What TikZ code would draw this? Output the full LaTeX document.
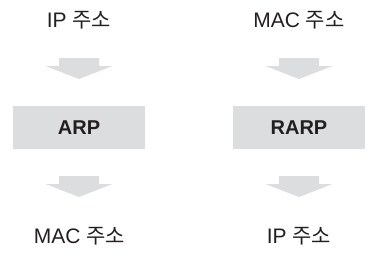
\documentclass[tikz,border=0pt]{standalone}
\usepackage{fontspec}
\setmainfont{Liberation Sans}
\newfontfamily\kr{Noto Sans CJK KR}
\definecolor{boxgray}{HTML}{DCDDDF}
\definecolor{txt}{HTML}{231F20}
\begin{document}
\begin{tikzpicture}[x=1pt,y=-1pt,
  lbl/.style={inner sep=0pt,text=txt,font=\fontsize{21}{21}\selectfont},
  procbox/.style={fill=boxgray,minimum width=132pt,minimum height=43pt,inner sep=0pt,text=txt,font=\fontsize{20}{20}\selectfont\bfseries},
  blockarrow/.style={fill=boxgray}]
\useasboundingbox (0,0) rectangle (375,260);
% left column
\node[lbl] (ipA) at (79,20) {IP {\kr 주소}};
\node[procbox] (arp) at (79,127.5) {ARP};
\node[lbl] (macA) at (79.5,236) {MAC {\kr 주소}};
% right column
\node[lbl] (macB) at (299,20) {MAC {\kr 주소}};
\node[procbox] (rarp) at (299,127.5) {RARP};
\node[lbl] (ipB) at (299,236) {IP {\kr 주소}};
% block arrows
\foreach \cx/\ty in {79/58, 79/176, 299/58, 299/176}{
  \fill[blockarrow] (\cx-20,\ty) -- (\cx+20,\ty) -- (\cx+20,\ty+8) -- (\cx+33.5,\ty+8)
    -- (\cx,\ty+21) -- (\cx-33.5,\ty+8) -- (\cx-20,\ty+8) -- cycle;
}
\end{tikzpicture}
\end{document}
